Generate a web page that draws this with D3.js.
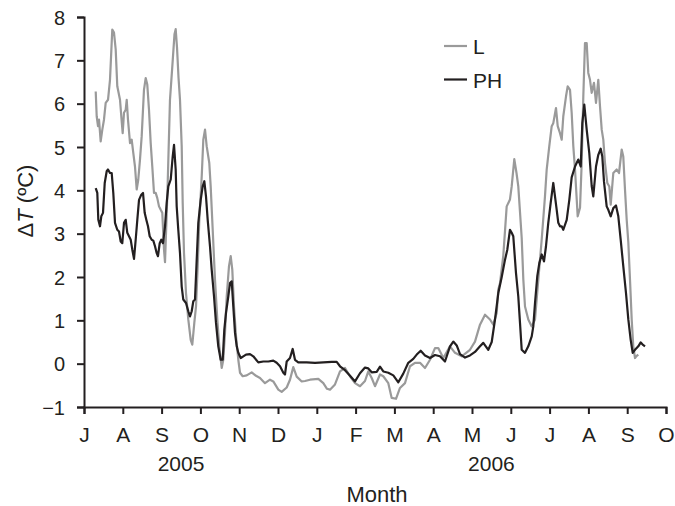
<!DOCTYPE html>
<html>
<head>
<meta charset="utf-8">
<script src="https://cdn.jsdelivr.net/npm/d3@7"></script>
<style>
  html, body { margin: 0; padding: 0; background: #fff; }
  svg { display: block; }
  text { font-family: "Liberation Sans", Arial, Helvetica, sans-serif; fill: #231f20; }
</style>
</head>
<body>
<svg id="chart" width="675" height="506"></svg>
<script>
// Month tick labels, Jul 2005 .. Oct 2006 (one tick per month)
const monthLabels = ["J","A","S","O","N","D","J","F","M","A","M","J","J","A","S","O"];
const yearLabels = [{ label: "2005", at: 2.5 }, { label: "2006", at: 10.5 }];
const yTicks = [-1, 0, 1, 2, 3, 4, 5, 6, 7, 8];

// Time in months since 1 July 2005, temperature difference in °C
const lTime = [0.302,0.327,0.361,0.387,0.430,0.472,0.515,0.559,0.619,0.670,0.729,0.773,0.817,0.858,0.928,0.961,0.997,1.031,1.075,1.101,1.134,1.186,1.229,1.271,1.314,1.358,1.399,1.443,1.487,1.546,1.590,1.631,1.675,1.719,1.760,1.804,1.848,1.889,1.933,1.977,2.018,2.062,2.088,2.152,2.216,2.276,2.332,2.363,2.397,2.436,2.474,2.518,2.544,2.577,2.629,2.688,2.750,2.791,2.843,2.887,2.930,2.972,3.034,3.075,3.119,3.162,3.229,3.265,3.317,3.376,3.436,3.487,3.549,3.590,3.634,3.678,3.737,3.781,3.822,3.866,3.918,3.977,4.021,4.090,4.193,4.322,4.433,4.536,4.665,4.794,4.879,5.008,5.095,5.224,5.309,5.394,5.482,5.611,5.696,5.825,6.039,6.168,6.263,6.340,6.469,6.598,6.727,6.856,6.985,7.113,7.242,7.327,7.415,7.500,7.629,7.714,7.843,7.930,8.041,8.144,8.273,8.402,8.531,8.660,8.789,8.918,9.046,9.131,9.260,9.433,9.562,9.735,9.948,10.077,10.206,10.335,10.464,10.549,10.637,10.678,10.722,10.807,10.894,10.979,11.023,11.090,11.147,11.193,11.237,11.281,11.323,11.366,11.451,11.539,11.624,11.709,11.796,11.881,11.925,11.992,12.054,12.095,12.165,12.209,12.268,12.312,12.353,12.423,12.466,12.526,12.569,12.611,12.655,12.724,12.784,12.827,12.869,12.912,12.956,12.997,13.041,13.085,13.144,13.196,13.255,13.299,13.343,13.384,13.428,13.487,13.539,13.575,13.642,13.729,13.789,13.858,13.899,13.943,13.987,14.029,14.072,14.116,14.157,14.201,14.245,14.286];
const lValues = [6.28,5.71,5.48,5.63,5.13,5.40,5.63,6.02,6.09,6.55,7.71,7.64,7.25,6.40,6.09,5.71,5.32,5.79,5.86,6.09,5.63,5.09,5.17,4.86,4.55,4.02,4.25,4.71,5.25,6.32,6.59,6.44,5.86,5.09,4.55,3.94,3.94,3.82,3.63,3.55,3.48,2.63,2.34,4.00,6.09,6.86,7.60,7.72,7.30,6.60,6.09,5.02,3.71,2.56,1.63,1.02,0.55,0.44,0.94,1.32,2.25,3.32,4.32,5.17,5.40,5.02,4.63,4.09,3.09,1.94,1.02,0.40,-0.10,0.09,0.71,1.55,2.25,2.48,2.17,1.32,0.63,0.09,-0.21,-0.29,-0.27,-0.20,-0.28,-0.33,-0.45,-0.37,-0.41,-0.60,-0.65,-0.55,-0.37,-0.08,-0.30,-0.41,-0.40,-0.37,-0.35,-0.45,-0.58,-0.60,-0.48,-0.18,-0.10,-0.29,-0.45,-0.52,-0.40,-0.18,-0.33,-0.52,-0.25,-0.29,-0.45,-0.79,-0.81,-0.56,-0.45,-0.06,0.02,0.02,-0.10,0.09,0.36,0.36,0.13,0.40,0.25,0.17,0.32,0.51,0.90,1.13,1.02,0.90,1.17,1.71,1.86,2.50,3.63,3.79,4.09,4.72,4.40,4.09,3.50,2.90,1.94,1.32,1.02,0.86,1.02,1.94,2.86,3.86,4.48,5.02,5.48,5.55,5.90,5.48,5.32,5.17,5.71,6.17,6.40,6.32,5.79,5.02,4.48,3.40,3.60,4.63,6.17,7.40,7.40,6.71,6.55,6.25,6.48,6.02,6.55,5.94,5.40,5.17,4.63,4.17,4.09,3.67,4.40,4.48,4.40,4.94,4.78,4.02,3.32,2.80,1.94,1.02,0.40,0.13,0.18,0.21];

const phTime = [0.302,0.343,0.369,0.412,0.446,0.490,0.534,0.585,0.619,0.670,0.714,0.755,0.799,0.858,0.902,0.946,0.987,1.031,1.075,1.116,1.160,1.204,1.245,1.289,1.332,1.374,1.418,1.477,1.521,1.564,1.606,1.649,1.693,1.745,1.786,1.830,1.874,1.907,1.951,1.992,2.036,2.088,2.131,2.173,2.235,2.286,2.320,2.363,2.389,2.430,2.474,2.518,2.559,2.629,2.688,2.732,2.776,2.817,2.861,2.905,2.946,3.008,3.059,3.101,3.144,3.188,3.247,3.291,3.351,3.402,3.461,3.523,3.575,3.616,3.660,3.719,3.763,3.807,3.848,3.892,3.936,3.977,4.039,4.106,4.175,4.278,4.363,4.492,4.621,4.750,4.879,4.966,5.052,5.137,5.180,5.224,5.309,5.379,5.438,5.523,5.740,5.954,6.168,6.384,6.513,6.598,6.727,6.856,6.985,7.113,7.242,7.327,7.415,7.544,7.629,7.714,7.843,7.972,8.101,8.229,8.358,8.487,8.575,8.678,8.789,8.918,9.046,9.175,9.304,9.433,9.518,9.606,9.691,9.820,9.948,10.077,10.206,10.291,10.420,10.508,10.593,10.678,10.766,10.851,10.910,10.979,11.023,11.064,11.134,11.193,11.237,11.281,11.366,11.451,11.539,11.580,11.624,11.683,11.735,11.796,11.856,11.907,11.966,12.028,12.095,12.139,12.183,12.224,12.268,12.312,12.353,12.441,12.508,12.569,12.655,12.740,12.802,12.843,12.894,12.956,13.023,13.085,13.126,13.196,13.255,13.317,13.358,13.402,13.471,13.513,13.575,13.642,13.711,13.771,13.832,13.899,13.969,14.029,14.090,14.142,14.201,14.286,14.348,14.399,14.459];
const phValues = [4.05,3.94,3.32,3.17,3.40,3.48,4.17,4.44,4.48,4.40,4.40,3.94,3.25,3.09,3.05,2.82,2.78,3.25,3.32,3.02,2.94,2.86,2.63,2.42,2.86,3.32,3.78,3.90,3.94,3.48,3.32,3.17,2.94,2.86,2.84,2.71,2.55,2.48,2.78,2.86,2.78,3.17,3.71,4.09,4.25,4.78,5.05,4.48,3.63,3.09,2.55,1.78,1.48,1.40,1.21,1.09,1.21,1.44,1.48,2.40,3.25,3.78,4.09,4.21,3.86,3.32,2.71,2.17,1.55,0.94,0.40,0.09,0.09,0.78,1.17,1.55,1.86,1.90,1.32,0.71,0.40,0.25,0.13,0.17,0.21,0.22,0.17,0.03,0.05,0.05,0.07,0.02,-0.06,-0.21,-0.25,0.05,0.13,0.34,0.09,0.03,0.03,0.02,0.03,0.04,0.04,-0.06,-0.15,-0.28,-0.41,-0.22,-0.09,-0.11,-0.20,-0.19,-0.07,-0.18,-0.21,-0.27,-0.43,-0.23,0.02,0.11,0.21,0.30,0.19,0.13,0.20,0.17,0.05,0.40,0.51,0.42,0.22,0.14,0.19,0.27,0.40,0.48,0.32,0.50,1.02,1.63,2.00,2.40,2.63,3.09,3.02,2.94,2.09,1.55,0.94,0.32,0.25,0.40,0.63,0.86,1.40,2.02,2.32,2.52,2.36,2.71,3.25,3.71,4.17,3.86,3.55,3.25,3.17,3.17,3.09,3.32,3.78,4.30,4.55,4.71,4.55,5.55,5.98,5.40,4.86,4.10,3.86,4.55,4.82,4.96,4.78,4.20,3.63,3.55,3.40,3.59,3.65,3.40,2.86,2.25,1.63,1.02,0.55,0.25,0.32,0.40,0.49,0.44,0.40];

const series = [
  { name: "L",  time: lTime,  values: lValues,  color: "#9a9a9a" },
  { name: "PH", time: phTime, values: phValues, color: "#231f20" }
];

const svg = d3.select("#chart");
const ink = "#231f20";

const x = d3.scaleLinear().domain([0, 15]).range([84, 666]);
const y = d3.scaleLinear().domain([-1, 8]).range([407, 17]);

// Series lines
const line = d3.line()
  .x(d => x(d[0]))
  .y(d => y(d[1]));

series.forEach(s => {
  const pts = s.time.map((t, i) => [t, s.values[i]]);
  svg.append("path")
    .datum(pts)
    .attr("fill", "none")
    .attr("stroke", s.color)
    .attr("stroke-width", 2.2)
    .attr("stroke-linejoin", "round")
    .attr("d", line);
});

// Axes
const xAxis = d3.axisBottom(x)
  .tickValues(d3.range(monthLabels.length))
  .tickFormat((d, i) => monthLabels[i])
  .tickSizeOuter(0)
  .tickSize(7)
  .tickPadding(13);

const gx = svg.append("g")
  .attr("transform", `translate(0,${y(-1)})`)
  .call(xAxis);

const yAxis = d3.axisLeft(y)
  .tickValues(yTicks)
  .tickFormat(d => d < 0 ? "\u2212" + Math.abs(d) : d)
  .tickSizeOuter(0)
  .tickSize(7)
  .tickPadding(12);

const gy = svg.append("g")
  .attr("transform", `translate(${x(0)},0)`)
  .call(yAxis);

[gx, gy].forEach(g => {
  g.select(".domain").attr("stroke", ink).attr("stroke-width", 2);
  g.selectAll(".tick line").attr("stroke", ink).attr("stroke-width", 2);
  g.selectAll(".tick text")
    .attr("fill", ink)
    .style("font-family", '"Liberation Sans", Arial, sans-serif');
});
gx.selectAll(".tick text").style("font-size", "21px");
gy.selectAll(".tick text").style("font-size", "20px").attr("dy", "0.36em");

// Year labels under the month ticks
svg.selectAll("text.year")
  .data(yearLabels)
  .join("text")
  .attr("class", "year")
  .attr("x", d => x(d.at))
  .attr("y", 471)
  .attr("text-anchor", "middle")
  .style("font-size", "21px")
  .text(d => d.label);

// Axis titles
svg.append("text")
  .attr("x", 377)
  .attr("y", 502)
  .attr("text-anchor", "middle")
  .style("font-size", "22px")
  .text("Month");

const yTitle = svg.append("text")
  .attr("transform", "translate(33,201) rotate(-90)")
  .attr("text-anchor", "middle")
  .style("font-size", "22px");
yTitle.append("tspan").text("\u0394");
yTitle.append("tspan").style("font-style", "italic").text("T");
yTitle.append("tspan").text(" (\u00baC)");

// Legend
const legend = svg.append("g").attr("transform", "translate(444,46)");
series.forEach((s, i) => {
  const row = legend.append("g").attr("transform", `translate(0,${i * 33.5})`);
  row.append("line")
    .attr("x1", 0).attr("x2", 23)
    .attr("y1", 0).attr("y2", 0)
    .attr("stroke", s.color)
    .attr("stroke-width", 2.2);
  row.append("text")
    .attr("x", 29)
    .attr("y", 8)
    .style("font-size", "21px")
    .text(s.name);
});
</script>
</body>
</html>
